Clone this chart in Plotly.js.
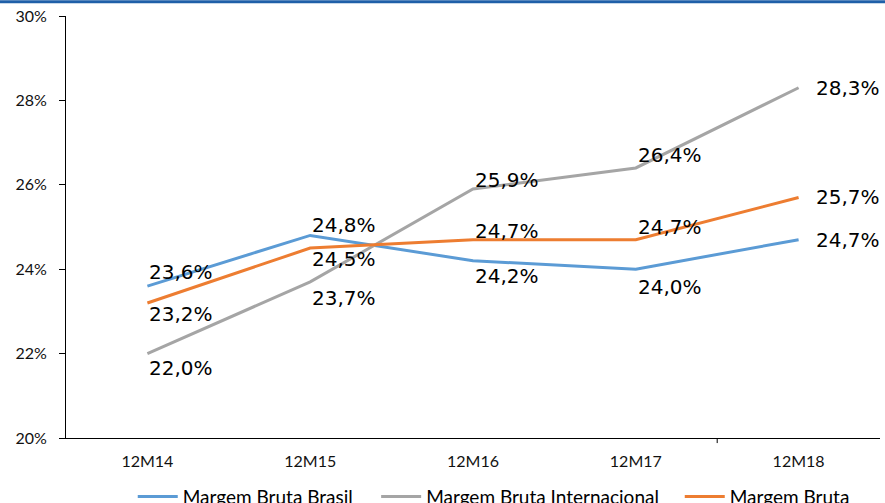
<!DOCTYPE html>
<html>
<head>
<meta charset="utf-8">
<script src="https://cdn.plot.ly/plotly-3.0.1.min.js"></script>
<style>html,body{margin:0;padding:0;background:#fff;}#chart{width:885px;height:503px;}</style>
</head>
<body>
<div id="chart"></div>
<script>
const categories = ["12M14", "12M15", "12M16", "12M17", "12M18"];
const brasil = [23.6, 24.8, 24.2, 24.0, 24.7];
const internacional = [22.0, 23.7, 25.9, 26.4, 28.3];
const margemBruta = [23.2, 24.5, 24.7, 24.7, 25.7];
const seriesNames = ["Margem Bruta Brasil", "Margem Bruta Internacional", "Margem Bruta"];
const yTicks = [20, 22, 24, 26, 28, 30];
const yTickLabels = ["20%", "22%", "24%", "26%", "28%", "30%"];

const colors = ["#5B9BD5", "#A5A5A5", "#ED7D31"];
const allSeries = [brasil, internacional, margemBruta];

// label placement (styling): vertical shift in px per series/point
const yShifts = [
  [14, 10, -15, -18, 0],
  [-14, -16, 9, 13, 0],
  [-11, -11, 9, 13, 0]
];
const legendIds = ["legend", "legend2", "legend3"];
const legendX = [0.082, 0.381, 0.754];

const traces = allSeries.map((vals, i) => ({
  x: categories, y: vals, type: "scatter", mode: "lines",
  name: seriesNames[i], legend: legendIds[i],
  line: {color: colors[i], width: 3},
  hoverinfo: "skip"
}));

const fmt = v => v.toFixed(1).replace(".", ",") + "%";
const annotations = [];
allSeries.forEach((vals, i) => {
  vals.forEach((v, j) => {
    annotations.push({
      x: categories[j], y: v, xref: "x", yref: "y",
      text: fmt(v), showarrow: false,
      xanchor: "left", yanchor: "middle",
      xshift: j === categories.length - 1 ? 15 : 0,
      yshift: yShifts[i][j],
      font: {family: "DejaVu Sans", size: 20, color: "#000"}
    });
  });
});

const layout = {
  width: 885, height: 503,
  margin: {l: 66, r: 5, t: 16, b: 65, autoexpand: false},
  paper_bgcolor: "#fff", plot_bgcolor: "#fff",
  showlegend: true,
  xaxis: {
    type: "category", range: [-0.5, 4.5], showline: true, linecolor: "#000", linewidth: 1,
    ticks: "", showgrid: false, zeroline: false, ticklabelstandoff: 9,
    tickfont: {family: "Lato", size: 16, color: "#111"}
  },
  yaxis: {
    range: [20, 30], tickvals: yTicks, ticktext: yTickLabels, showline: true, linecolor: "#000",
    linewidth: 1, ticks: "outside", ticklen: 6, tickcolor: "#000", showgrid: false, zeroline: false,
    ticklabelstandoff: 9,
    tickfont: {family: "Lato", size: 16, color: "#111"}
  },
  annotations: annotations,
  shapes: [
    {type: "line", xref: "paper", yref: "paper", x0: -0.1, x1: 1.1, y0: 1.034, y1: 1.034,
     line: {color: "#1F5FA8", width: 3}},
    {type: "line", xref: "x", yref: "paper", x0: 3.5, x1: 3.5, y0: 0, y1: -0.012,
     line: {color: "#000", width: 1}}
  ]
};
legendIds.forEach((id, i) => {
  layout[id] = {orientation: "h", x: legendX[i], xanchor: "left", y: -0.094, yanchor: "top",
                font: {family: "Lato", size: 19, color: "#000"}, itemwidth: 40,
                bgcolor: "rgba(0,0,0,0)"};
});

Plotly.newPlot("chart", traces, layout, {displayModeBar: false, staticPlot: true});
</script>
</body>
</html>
